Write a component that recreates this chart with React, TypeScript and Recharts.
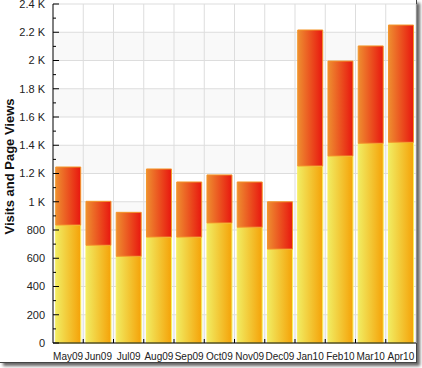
import React from 'react';
import { BarChart, Bar, XAxis, YAxis, CartesianGrid } from 'recharts';

const months = ['May09', 'Jun09', 'Jul09', 'Aug09', 'Sep09', 'Oct09', 'Nov09', 'Dec09', 'Jan10', 'Feb10', 'Mar10', 'Apr10'];
const visits = [835, 692, 614, 750, 750, 850, 820, 665, 1253, 1324, 1414, 1421];
const pageViews = [411, 311, 311, 482, 390, 340, 320, 335, 963, 672, 689, 830];
const yTicks = [0, 100, 200, 300, 400, 500, 600, 700, 800, 900, 1000, 1100, 1200, 1300, 1400, 1500, 1600, 1700, 1800, 1900, 2000, 2100, 2200, 2300, 2400];

const data = months.map((m, i) => ({ month: m, visits: visits[i], pageViews: pageViews[i] }));

const FONT = '"Liberation Sans", Arial, sans-serif';

const fmt = (v: number) => (v >= 1000 ? `${v / 1000} K` : `${v}`);

const YTick = (props: any) => {
  const { x, y, payload } = props;
  const ax = x + 8;
  const major = payload.value % 200 === 0;
  return (
    <g>
      <line x1={ax} x2={ax + (major ? 6 : 3)} y1={y} y2={y} stroke="#000" />
      {major && (
        <text x={x} y={y} dy="0.36em" textAnchor="end" fontSize={11} fontFamily={FONT} fill="#222">
          {fmt(payload.value)}
        </text>
      )}
    </g>
  );
};

const XTick = (props: any) => {
  const { x, y, payload } = props;
  const off = payload.offset || 0;
  const ay = y - 4;
  return (
    <g>
      {payload.index > 0 && <line x1={x - off} x2={x - off} y1={ay - 4} y2={ay} stroke="#000" />}
      <text x={x} y={y} dy={13} textAnchor="middle" fontSize={10} fontFamily={FONT} fill="#222">
        {payload.value}
      </text>
    </g>
  );
};

export default function App() {
  return (
    <div
      style={{
        position: 'absolute',
        left: 0,
        top: 0,
        width: 416,
        height: 362,
        background: '#fff',
        borderRight: '1px solid #444',
        borderBottom: '1px solid #444',
        boxShadow: '3px 3px 3px #666',
      }}
    >
      <BarChart
        width={417}
        height={363}
        data={data}
        margin={{ top: 4, right: 1, bottom: 0, left: 0 }}
        barCategoryGap="9%"
      >
        <defs>
          <linearGradient id="gYellow" x1="0" y1="0" x2="1" y2="0">
            <stop offset="0%" stopColor="#f1ec62" />
            <stop offset="100%" stopColor="#f5a208" />
          </linearGradient>
          <linearGradient id="gRed" x1="0" y1="0" x2="1" y2="0">
            <stop offset="0%" stopColor="#ee8e30" />
            <stop offset="100%" stopColor="#e8170f" />
          </linearGradient>
        </defs>
        <CartesianGrid
          stroke="#dddddd"
          horizontalFill={['#ffffff', '#f9f9f9']}
          fillOpacity={1}
          horizontalCoordinatesGenerator={({ offset }: any) =>
            yTicks.filter((v) => v % 200 === 0).map((v) => offset.top + offset.height * (1 - v / 2400))
          }
          verticalCoordinatesGenerator={({ offset }: any) =>
            months.map((_, i) => offset.left + ((i + 1) * offset.width) / months.length)
          }
        />
        <XAxis
          dataKey="month"
          height={20}
          tickLine={false}
          tickSize={0}
          tickMargin={4}
          tick={<XTick />}
          axisLine={{ stroke: '#000' }}
          interval={0}
        />
        <YAxis
          width={53}
          domain={[0, 2400]}
          ticks={yTicks}
          interval={0}
          tickLine={false}
          tickSize={0}
          tickMargin={8}
          tick={<YTick />}
          axisLine={{ stroke: '#000' }}
          label={{
            value: 'Visits and Page Views',
            angle: -90,
            position: 'center',
            dx: -17,
            dy: -7,
            style: { fontFamily: FONT, fontSize: 13, fontWeight: 'bold', fill: '#111' },
          }}
        />
        <Bar dataKey="visits" stackId="a" fill="url(#gYellow)" stroke="#f8ee5c" strokeWidth={1} isAnimationActive={false} />
        <Bar dataKey="pageViews" stackId="a" fill="url(#gRed)" stroke="#f3962a" strokeWidth={1} isAnimationActive={false} />
      </BarChart>
    </div>
  );
}
